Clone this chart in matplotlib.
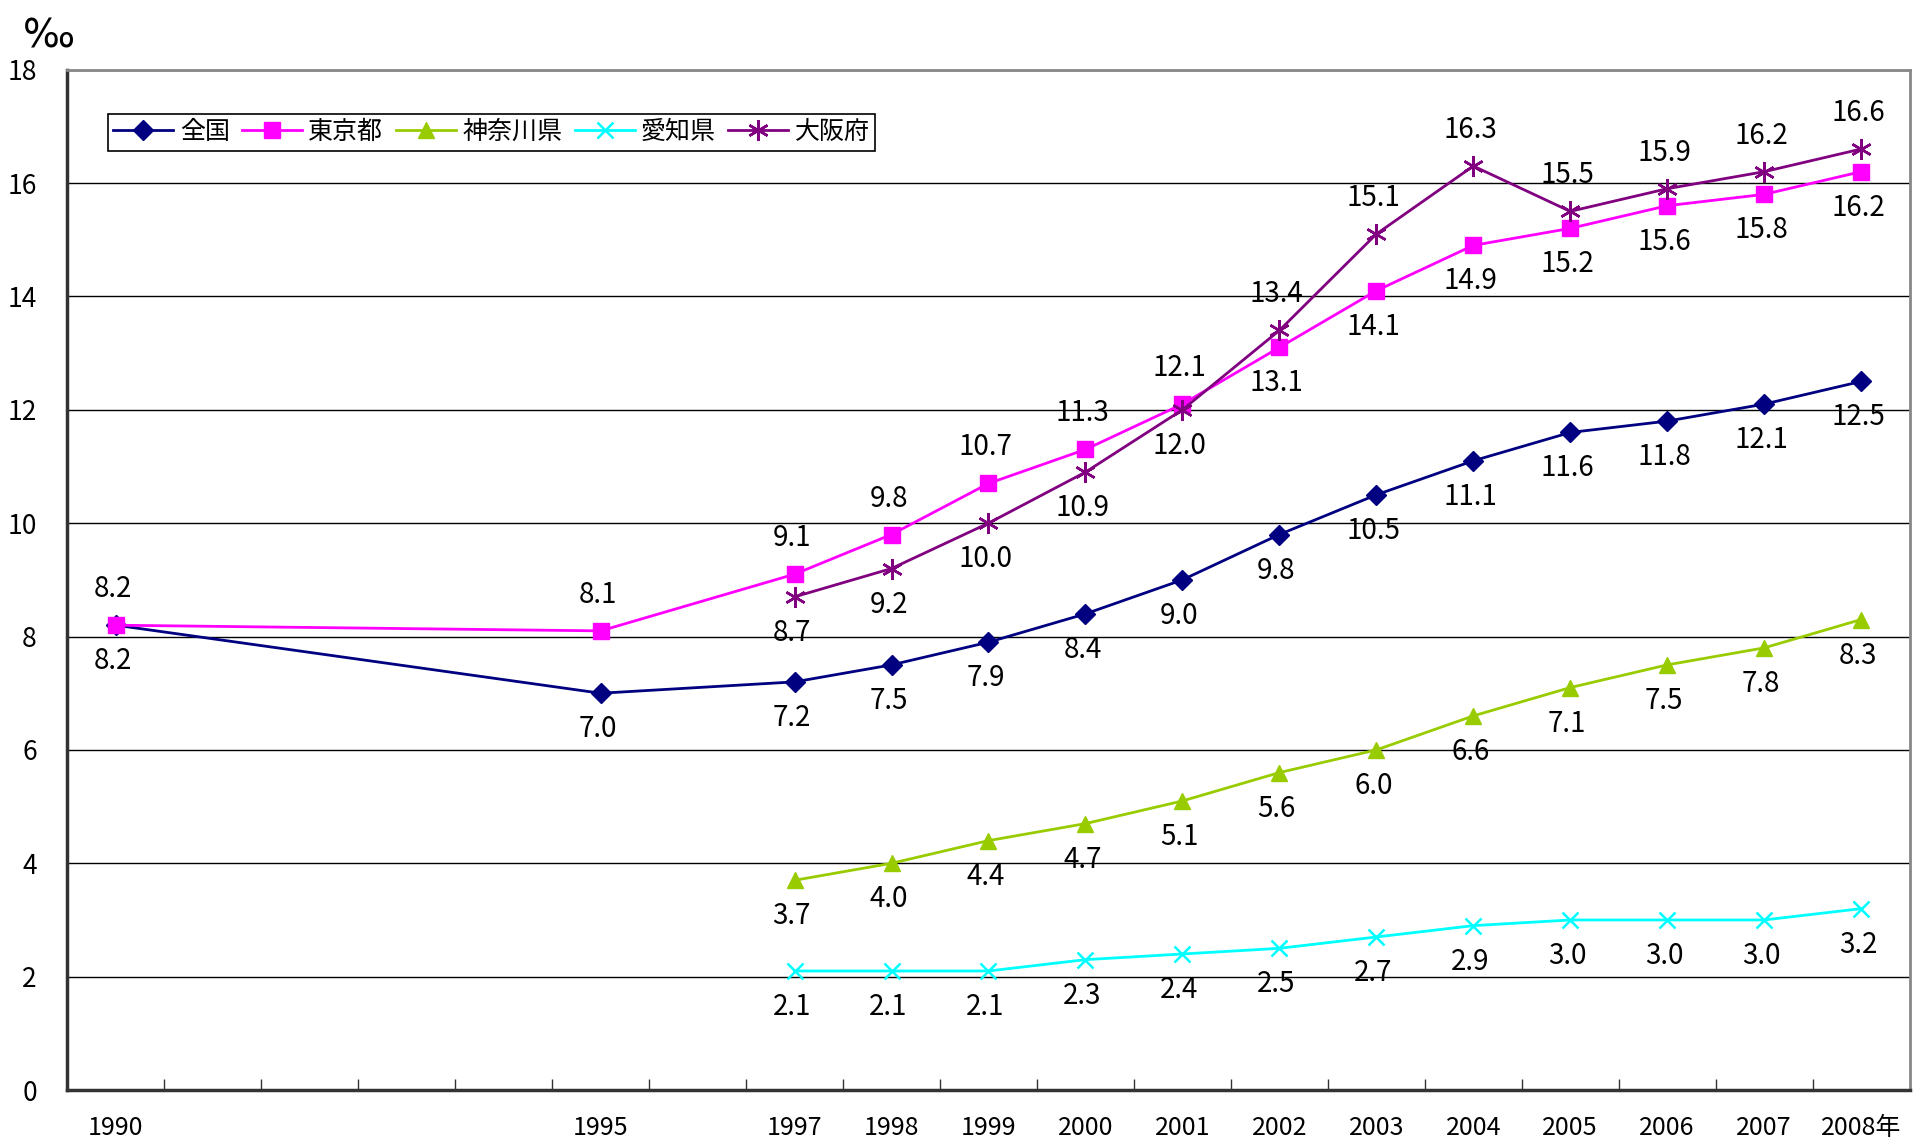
import matplotlib
matplotlib.use("Agg")
from matplotlib import pyplot as plt
from matplotlib.ticker import FixedLocator

plt.rcParams['font.family'] = ['Noto Sans CJK JP', 'DejaVu Sans']

# data
years_all = [1990, 1995, 1997, 1998, 1999, 2000, 2001, 2002, 2003, 2004, 2005, 2006, 2007, 2008]
years_late = years_all[2:]
year_labels = ['1990', '1995', '1997', '1998', '1999', '2000', '2001', '2002',
               '2003', '2004', '2005', '2006', '2007', '2008年']

zenkoku = [8.2, 7.0, 7.2, 7.5, 7.9, 8.4, 9.0, 9.8, 10.5, 11.1, 11.6, 11.8, 12.1, 12.5]
tokyo = [8.2, 8.1, 9.1, 9.8, 10.7, 11.3, 12.1, 13.1, 14.1, 14.9, 15.2, 15.6, 15.8, 16.2]
kanagawa = [3.7, 4.0, 4.4, 4.7, 5.1, 5.6, 6.0, 6.6, 7.1, 7.5, 7.8, 8.3]
aichi = [2.1, 2.1, 2.1, 2.3, 2.4, 2.5, 2.7, 2.9, 3.0, 3.0, 3.0, 3.2]
osaka = [8.7, 9.2, 10.0, 10.9, 12.0, 13.4, 15.1, 16.3, 15.5, 15.9, 16.2, 16.6]

# label side: 1 above, -1 below
tokyo_side = [1] * 7 + [-1] * 7
osaka_side = [-1] * 5 + [1] * 7

series = [
    ('全国', years_all, zenkoku, '#000080', 'D', 10, [-1] * 14),
    ('東京都', years_all, tokyo, '#FF00FF', 's', 11, tokyo_side),
    ('神奈川県', years_late, kanagawa, '#99CC00', '^', 11, [-1] * 12),
    ('愛知県', years_late, aichi, '#00FFFF', 'x', 11, [-1] * 12),
    ('大阪府', years_late, osaka, '#800080', (6, 2, 0), 15, osaka_side),
]

fig = plt.figure(figsize=(19.25, 11.42), dpi=100)
ax = fig.add_axes([0.035, 0.0455, 0.957, 0.8935])

for name, xs, ys, col, mk, ms, sides in series:
    ax.plot(xs, ys, color=col, lw=2, marker=mk, markersize=ms,
            markeredgewidth=1.8 if mk in ('x', (6, 2, 0)) else 1,
            markerfacecolor=col, markeredgecolor=col, label=name, zorder=3)
    for x, y, s in zip(xs, ys, sides):
        ax.annotate(f'{y:.1f}', (x, y), xytext=(-3, 36 * s), textcoords='offset pixels',
                    ha='center', va='center', fontsize=20, zorder=4)

ax.set_xlim(1989.5, 2008.5)
ax.set_ylim(0, 18)
ax.set_yticks(range(0, 19, 2))
ax.yaxis.grid(True, color='black', lw=1)
ax.set_axisbelow(True)
ax.tick_params(axis='y', length=0, labelsize=19, pad=22)

ax.set_xticks(years_all)
ax.set_xticklabels(year_labels)
ax.xaxis.set_minor_locator(FixedLocator([1990.5 + k for k in range(18)]))
ax.tick_params(axis='x', which='major', length=0, labelsize=18, pad=18)
ax.tick_params(axis='x', which='minor', direction='in', length=8, width=1, color='#333333')

for side in ('left', 'bottom'):
    ax.spines[side].set_color('#333333')
    ax.spines[side].set_linewidth(2.5)
for side in ('top', 'right'):
    ax.spines[side].set_color('#888888')
    ax.spines[side].set_linewidth(2)

fig.text(0.012, 0.985, '‰', fontsize=28, va='top', ha='left', family=['DejaVu Sans'])

leg = ax.legend(loc='upper left', bbox_to_anchor=(0.022, 0.957), ncol=5, fontsize=18,
                frameon=True, fancybox=False, edgecolor='black', framealpha=1,
                handlelength=2.4, handletextpad=0.25, columnspacing=0.5,
                borderpad=0.22, borderaxespad=0)
leg.get_frame().set_linewidth(1.2)

fig.savefig('out.png', dpi=100)
